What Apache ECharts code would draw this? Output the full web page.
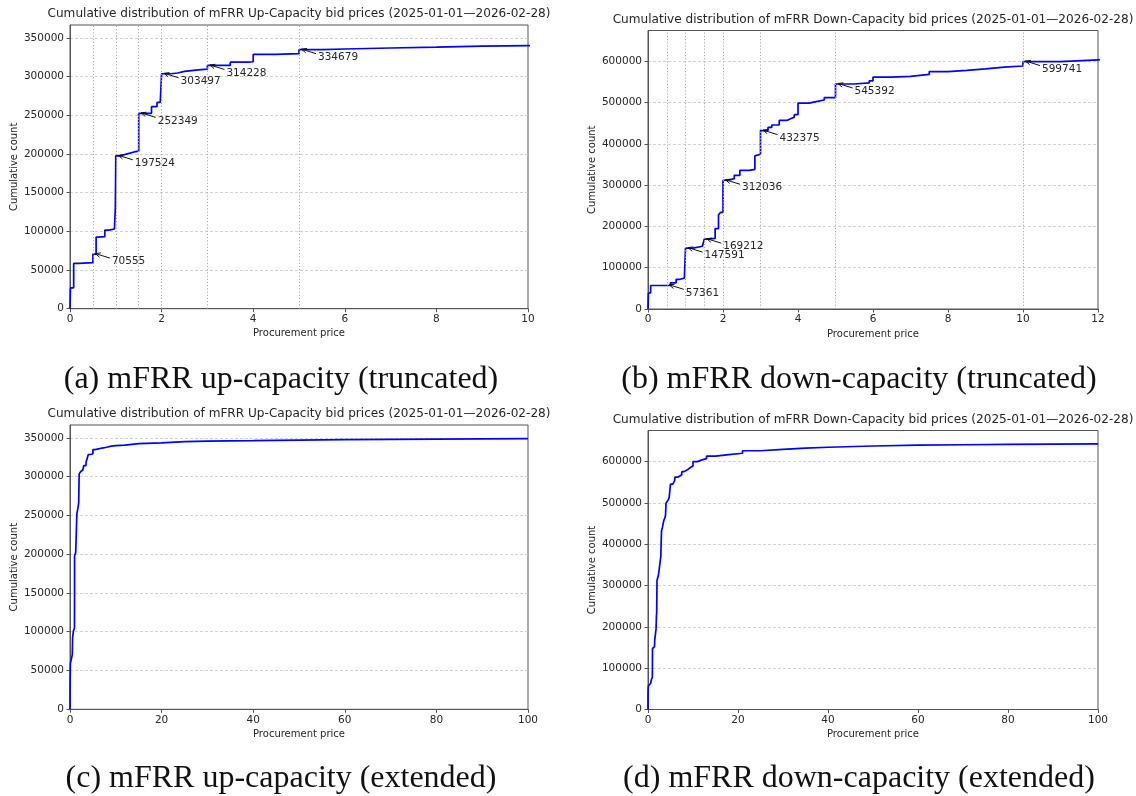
<!DOCTYPE html>
<html><head><meta charset="utf-8">
<script src="https://cdn.jsdelivr.net/npm/echarts@6/dist/echarts.min.js"></script>
<style>html,body{margin:0;padding:0;background:#fff}#c{width:1136px;height:796px}</style>
</head><body><div id="c"></div>
<script>
// ---- data ----
const upPrice = [0, 0.01, 0.08, 0.2, 0.5, 0.57, 0.62, 0.76, 0.85, 0.97, 0.99, 1, 1.1, 1.25, 1.4, 1.5, 1.78, 1.9, 1.97, 2, 2.2, 2.35, 2.5, 2.8, 3, 3.5, 3.9, 4, 4.5, 5, 5.5, 6, 7, 8, 9, 10, 12, 15, 20, 25, 30, 40, 50, 60, 70, 80, 90, 100];
const upCount = [0, 27000, 58500, 59500, 70555, 92500, 93000, 101500, 103000, 104500, 130000, 197524, 200000, 202500, 203500, 252349, 261000, 266500, 268000, 303497, 304500, 306500, 308500, 309500, 314228, 318500, 319000, 328500, 329500, 334679, 335500, 336800, 337800, 339200, 339800, 340500, 342500, 343500, 345000, 345800, 346300, 347000, 347600, 348000, 348300, 348600, 348900, 349100];
const downPrice = [0, 0.01, 0.07, 0.5, 0.6, 0.75, 0.85, 0.97, 1, 1.2, 1.45, 1.5, 1.6, 1.79, 1.88, 1.93, 2, 2.15, 2.3, 2.45, 2.7, 2.85, 2.9, 3, 3.2, 3.3, 3.5, 3.7, 3.8, 3.9, 4, 4.3, 4.45, 4.7, 5, 5.5, 5.9, 6, 6.5, 7, 7.5, 8, 8.5, 9, 9.5, 10, 11, 12, 13, 15, 18, 21, 25, 30, 35, 40, 50, 60, 70, 80, 90, 100];
const downCount = [0, 39000, 57000, 57361, 63500, 72000, 75000, 78000, 147591, 152000, 156000, 169212, 171000, 195000, 228000, 234000, 312036, 316000, 324000, 336000, 338500, 371000, 375000, 432375, 440000, 446000, 457000, 461000, 465000, 471000, 499000, 502000, 506500, 512500, 545392, 548000, 553000, 562000, 564000, 568500, 575500, 578500, 582000, 586000, 589000, 599741, 604000, 607000, 613000, 616500, 620000, 626000, 629500, 632500, 634500, 637500, 639500, 640500, 641500, 642200, 642800, 643300];
const upMarkPrice = [0.5, 1, 1.5, 2, 3, 5];
const upMarkCount = [70555, 197524, 252349, 303497, 314228, 334679];
const downMarkPrice = [0.5, 1, 1.5, 2, 3, 5, 10];
const downMarkCount = [57361, 147591, 169212, 312036, 432375, 545392, 599741];
const upYTicks = [0, 50000, 100000, 150000, 200000, 250000, 300000, 350000];
const downYTicks = [0, 100000, 200000, 300000, 400000, 500000, 600000];
const upTruncXTicks = [0, 2, 4, 6, 8, 10];
const downTruncXTicks = [0, 2, 4, 6, 8, 10, 12];
const extXTicks = [0, 20, 40, 60, 80, 100];
const upTitle = 'Cumulative distribution of mFRR Up-Capacity bid prices (2025-01-01\u20142026-02-28)';
const downTitle = 'Cumulative distribution of mFRR Down-Capacity bid prices (2025-01-01\u20142026-02-28)';
const captions = ['(a) mFRR up-capacity (truncated)', '(b) mFRR down-capacity (truncated)', '(c) mFRR up-capacity (extended)', '(d) mFRR down-capacity (extended)'];
const xName = 'Procurement price';
const yName = 'Cumulative count';

// ---- layout ----
const panels = [
  {left: 70, top: 25, width: 458, height: 283.7, xMax: 10, xTicks: upTruncXTicks, yMax: 366500, yTicks: upYTicks,
   price: upPrice, count: upCount, markX: upMarkPrice, markY: upMarkCount, title: upTitle, titleY: 14, caption: captions[0], capX: 281, capY: 380},
  {left: 648, top: 30.5, width: 450, height: 278.5, xMax: 12, xTicks: downTruncXTicks, yMax: 675000, yTicks: downYTicks,
   price: downPrice, count: downCount, markX: downMarkPrice, markY: downMarkCount, title: downTitle, titleY: 20, caption: captions[1], capX: 859, capY: 380},
  {left: 70, top: 425, width: 458, height: 284.3, xMax: 100, xTicks: extXTicks, yMax: 366500, yTicks: upYTicks,
   price: upPrice, count: upCount, markX: null, markY: null, title: upTitle, titleY: 414, caption: captions[2], capX: 281, capY: 779},
  {left: 648, top: 430.5, width: 450, height: 279, xMax: 100, xTicks: extXTicks, yMax: 675000, yTicks: downYTicks,
   price: downPrice, count: downCount, markX: null, markY: null, title: downTitle, titleY: 420, caption: captions[3], capX: 859, capY: 779}
];

const FONT = 'DejaVu Sans';
const TXT = '#262626';
const SPINE = '#555';

const grid = [], xAxis = [], yAxis = [], series = [], graphic = [];

panels.forEach((p, i) => {
  grid.push({left: p.left, top: p.top, width: p.width, height: p.height, show: true,
    borderColor: SPINE, borderWidth: 1, backgroundColor: 'transparent', containLabel: false});
  xAxis.push({
    type: 'value', gridIndex: i, min: 0, max: p.xMax, interval: p.xTicks[1] - p.xTicks[0],
    name: xName, nameLocation: 'middle', nameGap: 20,
    nameTextStyle: {fontFamily: FONT, fontSize: 10, color: TXT},
    axisLine: {show: true, onZero: false, lineStyle: {color: SPINE, width: 1}},
    axisTick: {show: true, length: 3.5, lineStyle: {color: SPINE}},
    axisLabel: {fontFamily: FONT, fontSize: 10.5, color: TXT, margin: 5},
    splitLine: {show: false}
  });
  yAxis.push({
    type: 'value', gridIndex: i, min: 0, max: p.yMax, interval: p.yTicks[1] - p.yTicks[0],
    name: yName, nameLocation: 'middle', nameGap: 51,
    nameTextStyle: {fontFamily: FONT, fontSize: 10, color: TXT},
    axisLine: {show: true, lineStyle: {color: SPINE, width: 1}},
    axisTick: {show: true, length: 3.5, lineStyle: {color: SPINE}, customValues: p.yTicks},
    axisLabel: {fontFamily: FONT, fontSize: 10.5, color: TXT, margin: 6, customValues: p.yTicks,
      formatter: v => (p.yTicks.indexOf(v) >= 0 ? String(v) : '')},
    splitLine: {show: true, lineStyle: {color: '#c8c8c8', width: 0.8, type: [3, 2]}}
  });
  const line = {
    type: 'line', xAxisIndex: i, yAxisIndex: i, step: 'end', showSymbol: false, symbol: 'none',
    data: p.price.map((x, j) => [x, p.count[j]]),
    lineStyle: {color: '#0000ff', width: 1.7}, animation: false, clip: true, z: 3
  };
  if (p.markX) {
    line.markLine = {
      silent: true, symbol: ['none', 'none'], label: {show: false}, animation: false,
      lineStyle: {color: '#a8a8a8', type: [1.2, 2], width: 1},
      data: p.markX.map(x => ({xAxis: x}))
    };
  }
  series.push(line);
  if (p.markX) {
    series.push({
      type: 'custom', xAxisIndex: i, yAxisIndex: i, clip: false, animation: false, z: 5,
      data: p.markX.map((x, j) => [x, p.markY[j]]),
      renderItem: (params, api) => {
        const pt = api.coord([api.value(0), api.value(1)]);
        const x1 = pt[0] + 17, y1 = pt[1] + 4;
        const x2 = pt[0] + 2.5, y2 = pt[1] - 0.5;
        const ang = Math.atan2(y2 - y1, x2 - x1);
        const hl = 5.5, hw = 0.42;
        const h1 = [x2 - hl * Math.cos(ang - hw), y2 - hl * Math.sin(ang - hw)];
        const h2 = [x2 - hl * Math.cos(ang + hw), y2 - hl * Math.sin(ang + hw)];
        return {type: 'group', children: [
          {type: 'line', shape: {x1: x1, y1: y1, x2: x2, y2: y2}, style: {stroke: '#111', lineWidth: 1}},
          {type: 'polyline', shape: {points: [h1, [x2, y2], h2]}, style: {stroke: '#111', lineWidth: 1, fill: null}},
          {type: 'text', style: {text: String(api.value(1)), x: pt[0] + 19, y: pt[1] + 7.5,
            verticalAlign: 'middle', align: 'left', font: '10.5px "DejaVu Sans"', fill: TXT}}
        ]};
      }
    });
  }
  graphic.push({type: 'text', x: p.left + p.width / 2, y: p.titleY,
    style: {text: p.title, align: 'center', verticalAlign: 'middle', font: '12.1px "DejaVu Sans"', fill: TXT}});
  graphic.push({type: 'text', x: p.capX, y: p.capY,
    style: {text: p.caption, align: 'center', verticalAlign: 'middle', font: '32px "Liberation Serif"', fill: '#111'}});
});

const chart = echarts.init(document.getElementById('c'), null, {renderer: 'canvas'});
chart.setOption({animation: false, backgroundColor: '#fff', grid, xAxis, yAxis, series, graphic});
</script>
</body></html>
